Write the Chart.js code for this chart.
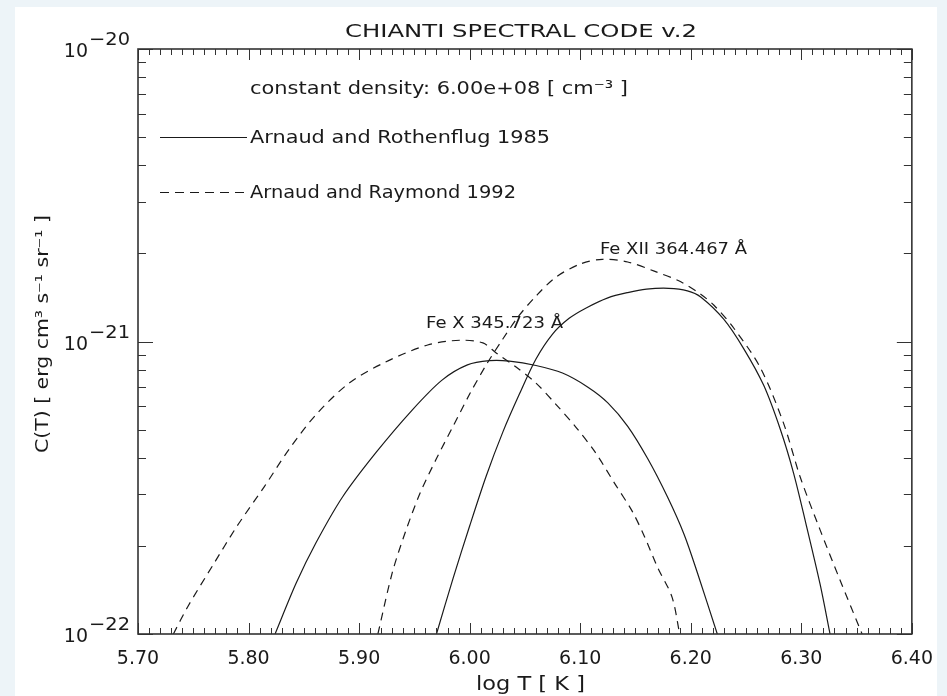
<!DOCTYPE html>
<html>
<head>
<meta charset="utf-8">
<script src="https://cdn.jsdelivr.net/npm/chart.js@4.4.0/dist/chart.umd.min.js"></script>
<style>
  html, body { margin: 0; padding: 0; background: #edf4f8; }
  #wrap { position: relative; width: 947px; height: 696px; overflow: hidden; }
  #panel { position: absolute; left: 15px; top: 7px; width: 922px; height: 689px; background: #fff; }
  #c { position: absolute; left: 0; top: 0; }
</style>
</head>
<body>
<div id="wrap"><div id="panel"></div><canvas id="c" width="947" height="696"></canvas></div>
<script>
// axis ticks
const xMajor = [5.70, 5.80, 5.90, 6.00, 6.10, 6.20, 6.30, 6.40];
const yDecades = [1e-22, 1e-21, 1e-20];
const yExponents = ['\u221222', '\u221221', '\u221220'];

// Fe X 345.723 A, Arnaud & Rothenflug 1985 (solid)
const feX_T_AR = [5.824, 5.843, 5.861, 5.885, 5.915, 5.948, 5.975, 5.998, 6.018, 6.036, 6.060, 6.084, 6.107, 6.125, 6.143, 6.161, 6.179, 6.194, 6.206, 6.224];
const feX_C_AR = [1.00e-22, 1.49e-22, 2.05e-22, 2.94e-22, 4.16e-22, 5.83e-22, 7.38e-22, 8.32e-22, 8.60e-22, 8.57e-22, 8.28e-22, 7.80e-22, 6.98e-22, 6.17e-22, 5.13e-22, 3.98e-22, 2.94e-22, 2.19e-22, 1.62e-22, 1.00e-22];

// Fe X 345.723 A, Arnaud & Raymond 1992 (dashed)
const feX_T_ARy = [5.732, 5.745, 5.769, 5.789, 5.814, 5.837, 5.861, 5.891, 5.924, 5.962, 5.991, 6.012, 6.024, 6.042, 6.060, 6.078, 6.096, 6.114, 6.131, 6.147, 6.158, 6.170, 6.183, 6.190];
const feX_C_ARy = [1.00e-22, 1.24e-22, 1.75e-22, 2.32e-22, 3.18e-22, 4.30e-22, 5.62e-22, 7.21e-22, 8.51e-22, 9.73e-22, 1.01e-21, 9.89e-22, 9.14e-22, 8.18e-22, 7.21e-22, 6.10e-22, 5.10e-22, 4.16e-22, 3.28e-22, 2.63e-22, 2.16e-22, 1.69e-22, 1.34e-22, 1.00e-22];

// Fe XII 364.467 A, Arnaud & Rothenflug 1985 (solid)
const feXII_T_AR = [5.970, 5.985, 6.000, 6.015, 6.030, 6.045, 6.060, 6.075, 6.090, 6.105, 6.125, 6.143, 6.160, 6.180, 6.197, 6.209, 6.230, 6.248, 6.266, 6.281, 6.293, 6.304, 6.317, 6.326];
const feXII_C_AR = [1.00e-22, 1.55e-22, 2.34e-22, 3.47e-22, 4.90e-22, 6.61e-22, 8.71e-22, 1.06e-21, 1.20e-21, 1.30e-21, 1.41e-21, 1.47e-21, 1.51e-21, 1.52e-21, 1.49e-21, 1.42e-21, 1.19e-21, 9.44e-22, 7.08e-22, 5.01e-22, 3.55e-22, 2.40e-22, 1.48e-22, 1.00e-22];

// Fe XII 364.467 A, Arnaud & Raymond 1992 (dashed)
const feXII_T_ARy = [5.917, 5.930, 5.942, 5.955, 5.970, 5.985, 6.000, 6.015, 6.030, 6.045, 6.060, 6.078, 6.100, 6.120, 6.143, 6.167, 6.191, 6.209, 6.221, 6.239, 6.263, 6.284, 6.299, 6.317, 6.335, 6.355];
const feXII_C_ARy = [1.00e-22, 1.62e-22, 2.24e-22, 3.02e-22, 3.98e-22, 5.13e-22, 6.61e-22, 8.32e-22, 1.02e-21, 1.23e-21, 1.43e-21, 1.66e-21, 1.84e-21, 1.91e-21, 1.87e-21, 1.74e-21, 1.60e-21, 1.45e-21, 1.33e-21, 1.11e-21, 8.13e-22, 5.25e-22, 3.44e-22, 2.27e-22, 1.53e-22, 1.00e-22];

const INK = '#1a1a1a';
const FONT = '"DejaVu Sans", sans-serif';

function pts(ts, cs) { return ts.map((t, i) => ({ x: t, y: cs[i] })); }

function curve(label, ts, cs, dashed) {
  return {
    label: label,
    data: pts(ts, cs),
    borderColor: INK,
    borderWidth: 1.2,
    borderDash: dashed ? [8, 6] : [],
    pointRadius: 0,
    fill: false,
    tension: 0.3
  };
}

// draw text stretched horizontally to a given width (IDL vector font is wide)
function fitText(ctx, str, x, y, w, size) {
  ctx.font = size + 'px ' + FONT;
  ctx.textAlign = 'left';
  const w0 = ctx.measureText(str).width;
  ctx.save();
  ctx.translate(x, y);
  ctx.scale(w / w0, 1);
  ctx.fillText(str, 0, 0);
  ctx.restore();
}

const idlAxes = {
  id: 'idlAxes',
  afterDatasetsDraw(chart) {
    const { ctx, chartArea: a, scales: { x, y } } = chart;
    ctx.save();
    ctx.strokeStyle = '#333';
    ctx.lineWidth = 1;
    ctx.beginPath();
    // x ticks, inward, top and bottom
    for (let k = 0; k <= 70; k++) {
      const px = Math.round(x.getPixelForValue(5.70 + k * 0.01)) + 0.5;
      const len = k % 10 === 0 ? 11 : 6;
      ctx.moveTo(px, a.bottom); ctx.lineTo(px, a.bottom - len);
      ctx.moveTo(px, a.top); ctx.lineTo(px, a.top + len);
    }
    // y ticks, log decades + minors
    for (let d = 0; d < yDecades.length; d++) {
      for (let m = 1; m <= 9; m++) {
        if (d === yDecades.length - 1 && m > 1) break;
        const py = Math.round(y.getPixelForValue(yDecades[d] * m)) + 0.5;
        const len = m === 1 ? 15 : 8;
        ctx.moveTo(a.left, py); ctx.lineTo(a.left + len, py);
        ctx.moveTo(a.right, py); ctx.lineTo(a.right - len, py);
      }
    }
    ctx.stroke();
    ctx.lineWidth = 1.6;
    ctx.strokeRect(a.left, a.top, a.width, a.height);

    ctx.fillStyle = INK;
    ctx.textBaseline = 'alphabetic';
    // y tick labels 10^n
    yDecades.forEach((v, i) => {
      const py = y.getPixelForValue(v);
      fitText(ctx, yExponents[i], a.left - 49, py - 4, 41, 18);
      ctx.font = '19px ' + FONT;
      ctx.textAlign = 'right';
      ctx.fillText('10', a.left - 50, py + 8);
    });

    // title
    fitText(ctx, 'CHIANTI SPECTRAL CODE v.2', 345, 37, 352, 18);
    // x axis title
    fitText(ctx, 'log T [ K ]', 476, 690, 109, 19);
    // y axis title, rotated
    ctx.save();
    ctx.translate(48, 334);
    ctx.rotate(-Math.PI / 2);
    fitText(ctx, 'C(T) [ erg cm\u00b3 s\u207b\u00b9 sr\u207b\u00b9 ]', -119, 0, 238, 17);
    ctx.restore();

    // legend block
    fitText(ctx, 'constant density: 6.00e+08 [ cm\u207b\u00b3 ]', 250, 94, 378, 18);
    fitText(ctx, 'Arnaud and Rothenflug 1985', 250, 143, 300, 18);
    fitText(ctx, 'Arnaud and Raymond 1992', 250, 198, 266, 18);
    ctx.strokeStyle = INK;
    ctx.lineWidth = 1.2;
    ctx.beginPath(); ctx.moveTo(160, 137.5); ctx.lineTo(247, 137.5); ctx.stroke();
    ctx.setLineDash([9, 6]);
    ctx.beginPath(); ctx.moveTo(160, 192.5); ctx.lineTo(247, 192.5); ctx.stroke();
    ctx.setLineDash([]);

    // line labels
    fitText(ctx, 'Fe X 345.723 \u00c5', 426, 328, 137, 16);
    fitText(ctx, 'Fe XII 364.467 \u00c5', 600, 254, 147, 16);
    ctx.restore();
  }
};

new Chart(document.getElementById('c'), {
  type: 'line',
  data: {
    datasets: [
      curve('Fe X, Arnaud and Rothenflug 1985', feX_T_AR, feX_C_AR, false),
      curve('Fe X, Arnaud and Raymond 1992', feX_T_ARy, feX_C_ARy, true),
      curve('Fe XII, Arnaud and Rothenflug 1985', feXII_T_AR, feXII_C_AR, false),
      curve('Fe XII, Arnaud and Raymond 1992', feXII_T_ARy, feXII_C_ARy, true)
    ]
  },
  options: {
    responsive: false,
    animation: false,
    devicePixelRatio: 1,
    layout: { padding: { top: 49, right: 27, left: 0, bottom: 0 } },
    plugins: { legend: { display: false }, tooltip: { enabled: false } },
    scales: {
      x: {
        type: 'linear',
        min: 5.70,
        max: 6.40,
        afterFit: s => { s.height = 62; },
        afterBuildTicks: s => { s.ticks = xMajor.map(v => ({ value: v })); },
        ticks: {
          callback: v => Number(v).toFixed(2),
          font: { family: FONT, size: 19 },
          color: INK,
          padding: 14,
          maxRotation: 0,
          autoSkip: false
        },
        grid: { display: false, drawTicks: false, tickLength: 0 },
        border: { display: false }
      },
      y: {
        type: 'logarithmic',
        min: 1e-22,
        max: 1e-20,
        afterFit: s => { s.width = 138; },
        ticks: { display: false },
        grid: { display: false, drawTicks: false },
        border: { display: false }
      }
    }
  },
  plugins: [idlAxes]
});
</script>
</body>
</html>
